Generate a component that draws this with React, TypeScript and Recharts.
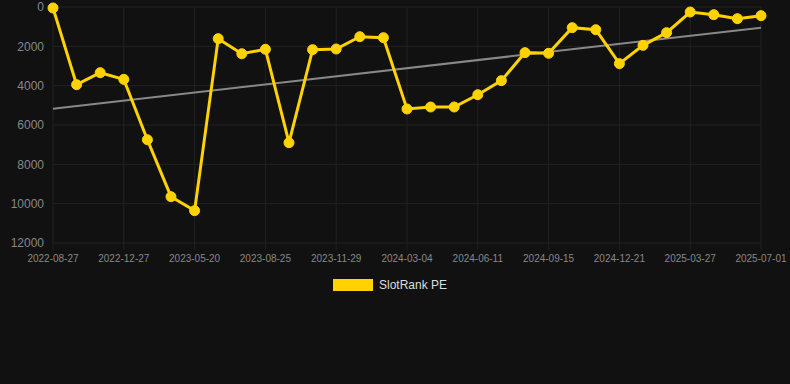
import React from 'react';
import { LineChart, Line, XAxis, YAxis, CartesianGrid, Legend, ReferenceLine } from 'recharts';

const dates: string[] = [
    '2022-08-27', '2022-10-10', '2022-11-18', '2022-12-27', '2023-02-12', '2023-04-02',
    '2023-05-20', '2023-06-22', '2023-07-24', '2023-08-25', '2023-09-26', '2023-10-28',
    '2023-11-29', '2023-12-31', '2024-02-01', '2024-03-04', '2024-04-05', '2024-05-09',
    '2024-06-11', '2024-07-13', '2024-08-14', '2024-09-15', '2024-10-17', '2024-11-19',
    '2024-12-21', '2025-01-25', '2025-02-28', '2025-03-27', '2025-04-28', '2025-05-30',
    '2025-07-01',
];

const rankValues: number[] = [
    50, 3950, 3340, 3680, 6750, 9645, 10355, 1610, 2375, 2150, 6900, 2170,
    2135, 1510, 1560, 5185, 5085, 5085, 4460, 3745, 2320, 2355, 1050, 1155,
    2880, 1950, 1305, 255, 390, 595, 440,
];

const yTicks: number[] = [0, 2000, 4000, 6000, 8000, 10000, 12000];

// trend line end points
const trendStart = 5170;
const trendEnd = 1050;

const chartData = dates.map((d, i) => ({ date: d, rank: rankValues[i] }));

const FONT = '"Liberation Sans", Arial, Helvetica, sans-serif';

const LegendContent = () => (
    <div style={{ display: 'flex', justifyContent: 'center', alignItems: 'center', fontFamily: FONT, fontSize: 12, color: '#dddddd' }}>
        <span style={{ display: 'inline-block', width: 40, height: 12, background: '#FFD200', marginRight: 6 }} />
        <span>SlotRank PE</span>
    </div>
);

const App: React.FC = () => {
    return (
        <div style={{ position: 'absolute', left: 0, top: 0, width: 790, height: 384, background: '#111111' }}>
            <LineChart width={790} height={384} data={chartData} margin={{ top: 7, right: 29, left: 0, bottom: 103 }}>
                <CartesianGrid stroke="#222222" strokeWidth={1} />
                <XAxis
                    dataKey="date"
                    interval={2}
                    axisLine={false}
                    tickLine={{ stroke: '#222222' }}
                    tickSize={7}
                    tickMargin={5}
                    height={24}
                    tick={{ fill: '#888888', fontSize: 10, fontFamily: FONT }}
                />
                <YAxis
                    reversed
                    domain={[0, 12000]}
                    ticks={yTicks}
                    interval={0}
                    width={53}
                    axisLine={false}
                    tickLine={false}
                    tickMargin={3}
                    tick={{ fill: '#888888', fontSize: 12, fontFamily: FONT }}
                />
                <ReferenceLine
                    segment={[{ x: dates[0], y: trendStart }, { x: dates[dates.length - 1], y: trendEnd }]}
                    stroke="#888888"
                    strokeWidth={2}
                    ifOverflow="visible"
                />
                <Line
                    type="linear"
                    dataKey="rank"
                    name="SlotRank PE"
                    stroke="#FFD200"
                    strokeWidth={3}
                    dot={{ r: 5, fill: '#FFD200', stroke: '#FFD200', strokeWidth: 1 }}
                    activeDot={false}
                    isAnimationActive={false}
                />
                <Legend verticalAlign="bottom" content={<LegendContent />} wrapperStyle={{ top: 278, left: -5, width: 790 }} />
            </LineChart>
        </div>
    );
};

export default App;
